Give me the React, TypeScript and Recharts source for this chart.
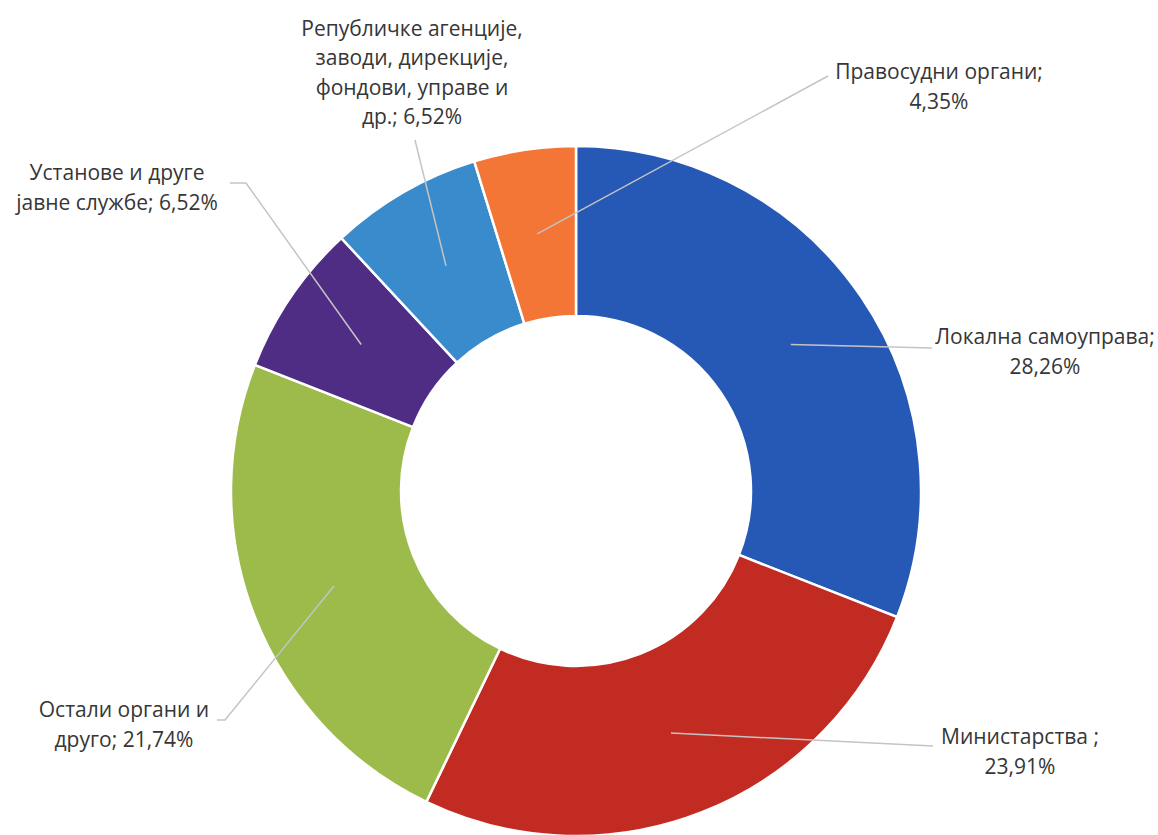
import { PieChart, Pie, Cell } from 'recharts'

// categories and shares (%) as printed on the chart
const categories = [
  'Локална самоуправа',
  'Министарства ',
  'Остали органи и друго',
  'Установе и друге јавне службе',
  'Републичке агенције, заводи, дирекције, фондови, управе и др.',
  'Правосудни органи',
]
const shares = [28.26, 23.91, 21.74, 6.52, 6.52, 4.35]
const colors = ['#2559b5', '#c22b22', '#9cbb4b', '#4f2d84', '#3a8bcb', '#f47636']

// label placement relative to pie center: leader end (ex, ey), elbow offset, text block center (tx, ty)
const labelLayout = [
  { ex: 356, ey: -143, tx: 469, ty: -140, stub: 0 },
  { ex: 357, ey: 255, tx: 444, ty: 260, stub: 0 },
  { ex: -359, ey: 229, tx: -452, ty: 233, stub: 8 },
  { ex: -346, ey: -308, tx: -459, ty: -304, stub: 16 },
  { ex: -161, ey: -351, tx: -164, ty: -419, stub: 0 },
  { ex: 252, ey: -415, tx: 363, ty: -405, stub: 0 },
]

const data = categories.map((name, i) => ({ name, value: shares[i] }))

const RAD = Math.PI / 180
const LINE_H = 29.5
const FONT = '"Open Sans", "Noto Sans", sans-serif'

function wrap(text: string, max: number) {
  const words = text.split(' ')
  const lines: string[] = []
  let cur = ''
  words.forEach(w => {
    const next = cur ? cur + ' ' + w : w
    if (next.length > max && cur) {
      lines.push(cur)
      cur = w
    } else {
      cur = next
    }
  })
  if (cur) lines.push(cur)
  return lines
}

function renderLabel(props: any) {
  const { cx, cy, midAngle, innerRadius, outerRadius, index, name, value } = props
  const lay = labelLayout[index]
  const r = (innerRadius + outerRadius) / 2
  const sx = cx + r * Math.cos(-midAngle * RAD)
  const sy = cy + r * Math.sin(-midAngle * RAD)
  const ex = cx + lay.ex
  const ey = cy + lay.ey
  const pts = lay.stub
    ? `${sx},${sy} ${ex + lay.stub},${ey} ${ex},${ey}`
    : `${sx},${sy} ${ex},${ey}`
  const text = `${name}; ${value.toFixed(2).replace('.', ',')}%`
  const lines = wrap(text, 20)
  const tx = cx + lay.tx
  const top = cy + lay.ty - ((lines.length - 1) * LINE_H) / 2
  return (
    <g key={`lbl-${index}`}>
      <polyline points={pts} fill="none" stroke="#c4c4c4" strokeWidth={1.5} />
      <text
        x={tx}
        y={top}
        textAnchor="middle"
        dominantBaseline="central"
        fill="#363636"
        fontSize={21}
        fontFamily={FONT}
      >
        {lines.map((ln, j) => (
          <tspan key={j} x={tx} y={top + j * LINE_H}>
            {ln}
          </tspan>
        ))}
      </text>
    </g>
  )
}

export default function App() {
  return (
    <div
      style={{
        position: 'absolute',
        left: 0,
        top: 0,
        width: 1158,
        height: 835,
        overflow: 'hidden',
        background: '#fff',
      }}
    >
      <PieChart width={1158} height={835} margin={{ top: 0, right: 0, bottom: 0, left: 0 }}>
        <Pie
          data={data}
          dataKey="value"
          nameKey="name"
          cx={576}
          cy={491}
          innerRadius={175}
          outerRadius={345}
          startAngle={90}
          endAngle={-270}
          stroke="#ffffff"
          strokeWidth={2.5}
          label={renderLabel}
          labelLine={false}
          isAnimationActive={false}
        >
          {data.map((d, i) => (
            <Cell key={d.name} fill={colors[i]} />
          ))}
        </Pie>
      </PieChart>
    </div>
  )
}
